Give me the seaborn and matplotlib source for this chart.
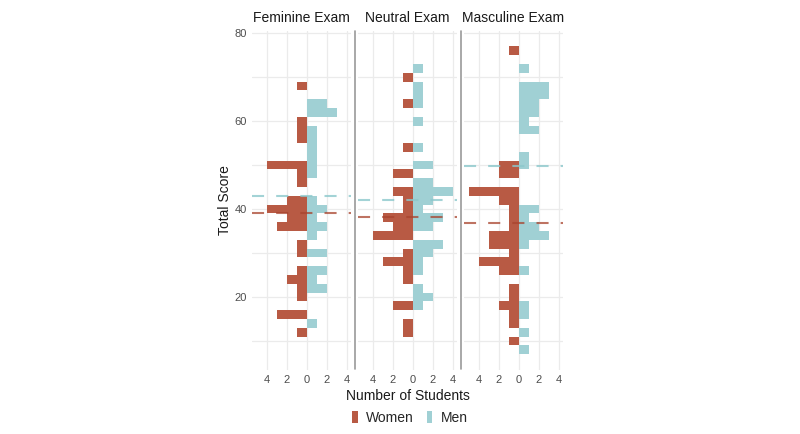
import numpy as np
import matplotlib
matplotlib.use("Agg")
import matplotlib.pyplot as plt
import matplotlib.ticker as ticker
from matplotlib.lines import Line2D
from matplotlib.patches import Patch
import seaborn as sns

# facets
exams = ["Feminine Exam", "Neutral Exam", "Masculine Exam"]

# bin centres (total score, bins of width 2) and number of students per bin
fem_women_score = [68, 60, 58, 56, 50, 48, 46, 42, 40, 38, 36, 32, 30, 26, 24, 22, 20, 16, 12]
fem_women_n = [1, 1, 1, 1, 4, 1, 1, 2, 4, 2, 3, 1, 1, 1, 2, 1, 1, 3, 1]
fem_men_score = [64, 62, 58, 56, 54, 52, 50, 48, 42, 40, 38, 36, 34, 30, 26, 24, 22, 14]
fem_men_n = [2, 3, 1, 1, 1, 1, 1, 1, 1, 2, 1, 2, 1, 2, 2, 1, 2, 1]

neu_women_score = [70, 64, 54, 48, 44, 42, 40, 38, 36, 34, 30, 28, 26, 24, 18, 14, 12]
neu_women_n = [1, 1, 1, 2, 2, 1, 1, 3, 2, 4, 1, 3, 1, 1, 2, 1, 1]
neu_men_score = [72, 68, 66, 64, 60, 54, 50, 46, 44, 42, 40, 38, 36, 32, 30, 28, 26, 22, 20, 18]
neu_men_n = [1, 1, 1, 1, 1, 1, 2, 2, 4, 2, 1, 3, 2, 3, 2, 1, 1, 1, 2, 1]

mas_women_score = [76, 50, 48, 44, 42, 40, 38, 36, 34, 32, 30, 28, 26, 22, 20, 18, 16, 14, 10]
mas_women_n = [1, 2, 2, 5, 2, 1, 1, 1, 3, 3, 1, 4, 2, 1, 1, 2, 1, 1, 1]
mas_men_score = [72, 68, 66, 64, 62, 60, 58, 52, 50, 40, 38, 36, 34, 32, 26, 18, 16, 12, 8]
mas_men_n = [1, 3, 3, 2, 2, 1, 2, 1, 1, 2, 1, 2, 3, 1, 1, 1, 1, 1, 1]

# mean score lines (dashed)
women_mean = [39.2, 38.1, 36.8]
men_mean = [42.9, 42.1, 49.8]

women_score = [fem_women_score, neu_women_score, mas_women_score]
women_n = [fem_women_n, neu_women_n, mas_women_n]
men_score = [fem_men_score, neu_men_score, mas_men_score]
men_n = [fem_men_n, neu_men_n, mas_men_n]

RED = "#B85A44"
BLUE = "#A0D0D4"

sns.set_style("white")
plt.rcParams["font.family"] = ["Liberation Sans", "DejaVu Sans"]

W, H = 800, 434
fig = plt.figure(figsize=(W / 100, H / 100), dpi=100)


def box(left, top, w, h):
    return [left / W, 1 - (top + h) / H, w / W, h / H]


top, ph, pw = 31, 338.5, 99
lefts = [252, 358, 464]

for i, exam in enumerate(exams):
    ax = fig.add_axes(box(lefts[i], top, pw, ph))
    sns.histplot(y=women_score[i], weights=-np.array(women_n[i]), binwidth=2,
                 binrange=(5, 79), color=RED, alpha=1, linewidth=0, ax=ax, zorder=2)
    sns.histplot(y=men_score[i], weights=np.array(men_n[i]), binwidth=2,
                 binrange=(5, 79), color=BLUE, alpha=1, linewidth=0, ax=ax, zorder=2)
    ax.axhline(men_mean[i], color="#8CC8CC", lw=1.5, ls=(0, (5.8, 5.8)), alpha=0.8, zorder=3)
    ax.axhline(women_mean[i], color="#A8442E", lw=1.5, ls=(0, (5.8, 5.8)), alpha=0.75, zorder=3)

    ax.set_xlim(-5.45, 4.45)
    ax.set_ylim(3.5, 80.5)
    ax.set_xticks([-4, -2, 0, 2, 4])
    ax.xaxis.set_major_formatter(ticker.FuncFormatter(lambda v, _: f"{abs(int(round(v)))}"))
    ax.set_yticks([20, 40, 60, 80])
    ax.set_yticks([10, 30, 50, 70], minor=True)
    ax.grid(which="both", color="#EBEBEB", lw=0.9, zorder=0)
    ax.set_axisbelow(True)
    ax.tick_params(which="both", length=0, labelsize=8, colors="#4D4D4D")
    ax.tick_params(axis="x", pad=4)
    ax.tick_params(axis="y", pad=3.5)
    if i > 0:
        ax.set_yticklabels([])
    ax.set_xlabel("")
    ax.set_ylabel("")
    for s in ax.spines.values():
        s.set_visible(False)
    fig.text((lefts[i] + pw / 2) / W, 1 - 18 / H, exam, ha="center", va="center",
             fontsize=10, color="#1A1A1A")

# panel separators
for x in [354.5, 460.5]:
    fig.add_artist(Line2D([x / W, x / W], [1 - 369 / H, 1 - 31 / H],
                          transform=fig.transFigure, color="#9A9A9A", lw=1.2))

fig.text(225 / W, 1 - 200 / H, "Total Score", rotation=90, ha="center", va="center",
         fontsize=10, color="#1A1A1A")
fig.text(408 / W, 1 - 396 / H, "Number of Students", ha="center", va="center",
         fontsize=10, color="#1A1A1A")

handles = [Patch(facecolor=RED, edgecolor="none"), Patch(facecolor=BLUE, edgecolor="none")]
fig.legend(handles, ["Women", "Men"], loc="center", bbox_to_anchor=(410 / W, 1 - 418 / H),
           ncol=2, frameon=False, fontsize=10, handlelength=0.4, handleheight=0.9,
           handletextpad=0.6, columnspacing=0.9)

fig.savefig("out.png", dpi=100, facecolor="white")
